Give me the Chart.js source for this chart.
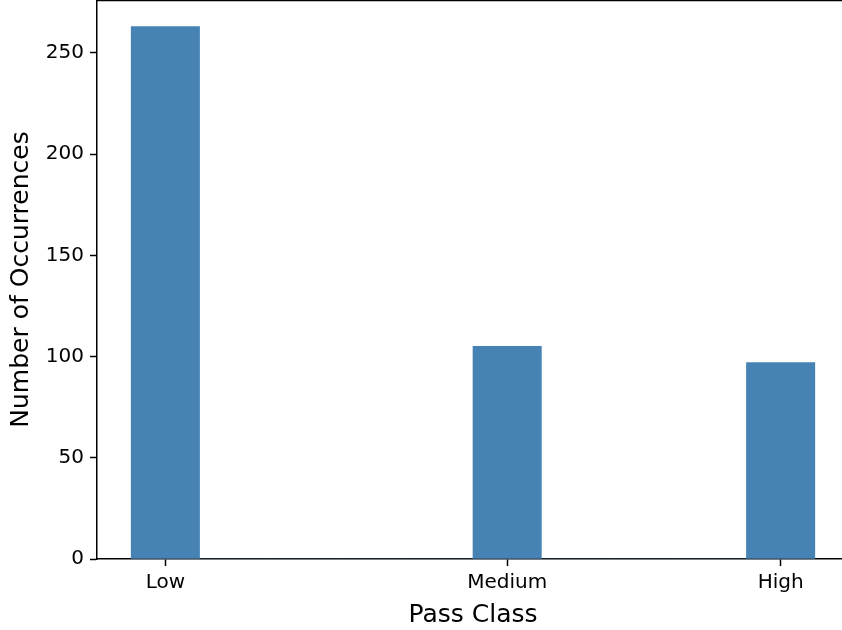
<!DOCTYPE html>
<html>
<head>
<meta charset="utf-8">
<script src="https://cdn.jsdelivr.net/npm/chart.js@4/dist/chart.umd.min.js"></script>
<style>
  html, body { margin: 0; padding: 0; background: #fff; overflow: hidden; }
  #wrap { width: 842px; height: 630px; overflow: hidden; }
</style>
</head>
<body>
<div id="wrap"><canvas id="c" width="850" height="630"></canvas></div>
<script>
// Histogram of pass classes (encoded 0 = Low, 1 = Medium, 2 = High), 10 bins over [0, 2]
const binCenters = [0.1, 0.3, 0.5, 0.7, 0.9, 1.1, 1.3, 1.5, 1.7, 1.9];
const binCounts  = [263, 0, 0, 0, 0, 105, 0, 0, 0, 97];

// Class labels and where their ticks sit on the x axis
const classLabels    = ['Low', 'Medium', 'High'];
const classPositions = [0.1, 1.1, 1.9];

// Y axis ticks
const yTickValues = [0, 50, 100, 150, 200, 250];

const xMin = -0.1, xMax = 2.1;
const yMax = 263 * 1.05;

Chart.defaults.font.family = 'DejaVu Sans';
Chart.defaults.color = '#000';

// Draws the top and right frame lines around the plot area
const framePlugin = {
  id: 'frame',
  afterDraw(chart) {
    const { ctx, chartArea: a } = chart;
    ctx.save();
    ctx.strokeStyle = '#000';
    ctx.lineWidth = 1.5;
    ctx.beginPath();
    ctx.moveTo(a.left, a.top + 0.5);
    ctx.lineTo(a.right, a.top + 0.5);
    ctx.lineTo(a.right, a.bottom);
    ctx.stroke();
    ctx.restore();
  }
};

new Chart(document.getElementById('c'), {
  type: 'bar',
  data: {
    datasets: [{
      data: binCenters.map((x, i) => ({ x: x, y: binCounts[i] })),
      backgroundColor: '#4682b4',
      borderWidth: 0,
      barPercentage: 1,
      categoryPercentage: 1
    }]
  },
  options: {
    responsive: false,
    animation: false,
    layout: { padding: { left: 0, right: 1, top: 0, bottom: 0 } },
    plugins: { legend: { display: false }, tooltip: { enabled: false } },
    scales: {
      x: {
        type: 'linear',
        min: xMin,
        max: xMax,
        offset: false,
        afterBuildTicks(scale) {
          scale.ticks = classPositions.map(v => ({ value: v }));
        },
        afterFit(scale) {
          scale.height = 71;
          scale.paddingLeft = 0;
          scale.paddingRight = 0;
        },
        ticks: {
          autoSkip: false,
          maxRotation: 0,
          padding: 5,
          font: { size: 20 },
          callback(value) {
            const i = classPositions.findIndex(p => Math.abs(p - value) < 1e-6);
            return i >= 0 ? classLabels[i] : '';
          }
        },
        grid: {
          display: true,
          offset: false,
          drawOnChartArea: false,
          drawTicks: true,
          tickLength: 7,
          tickWidth: 1.5,
          tickColor: '#000'
        },
        border: { display: true, color: '#000', width: 1.5 },
        title: {
          display: true,
          text: 'Pass Class',
          font: { size: 25 },
          padding: { top: 0, bottom: 0 }
        }
      },
      y: {
        min: 0,
        max: yMax,
        afterBuildTicks(scale) {
          scale.ticks = yTickValues.map(v => ({ value: v }));
        },
        afterFit(scale) {
          scale.width = 97;
          scale.paddingTop = 0;
          scale.paddingBottom = 0;
        },
        ticks: {
          padding: 6,
          font: { size: 20 }
        },
        grid: {
          display: true,
          offset: false,
          drawOnChartArea: false,
          drawTicks: true,
          tickLength: 7,
          tickWidth: 1.5,
          tickColor: '#000'
        },
        border: { display: true, color: '#000', width: 1.5 },
        title: {
          display: true,
          text: 'Number of Occurrences',
          font: { size: 25 },
          padding: { top: 6.5, bottom: 0 }
        }
      }
    }
  },
  plugins: [framePlugin]
});
</script>
</body>
</html>
